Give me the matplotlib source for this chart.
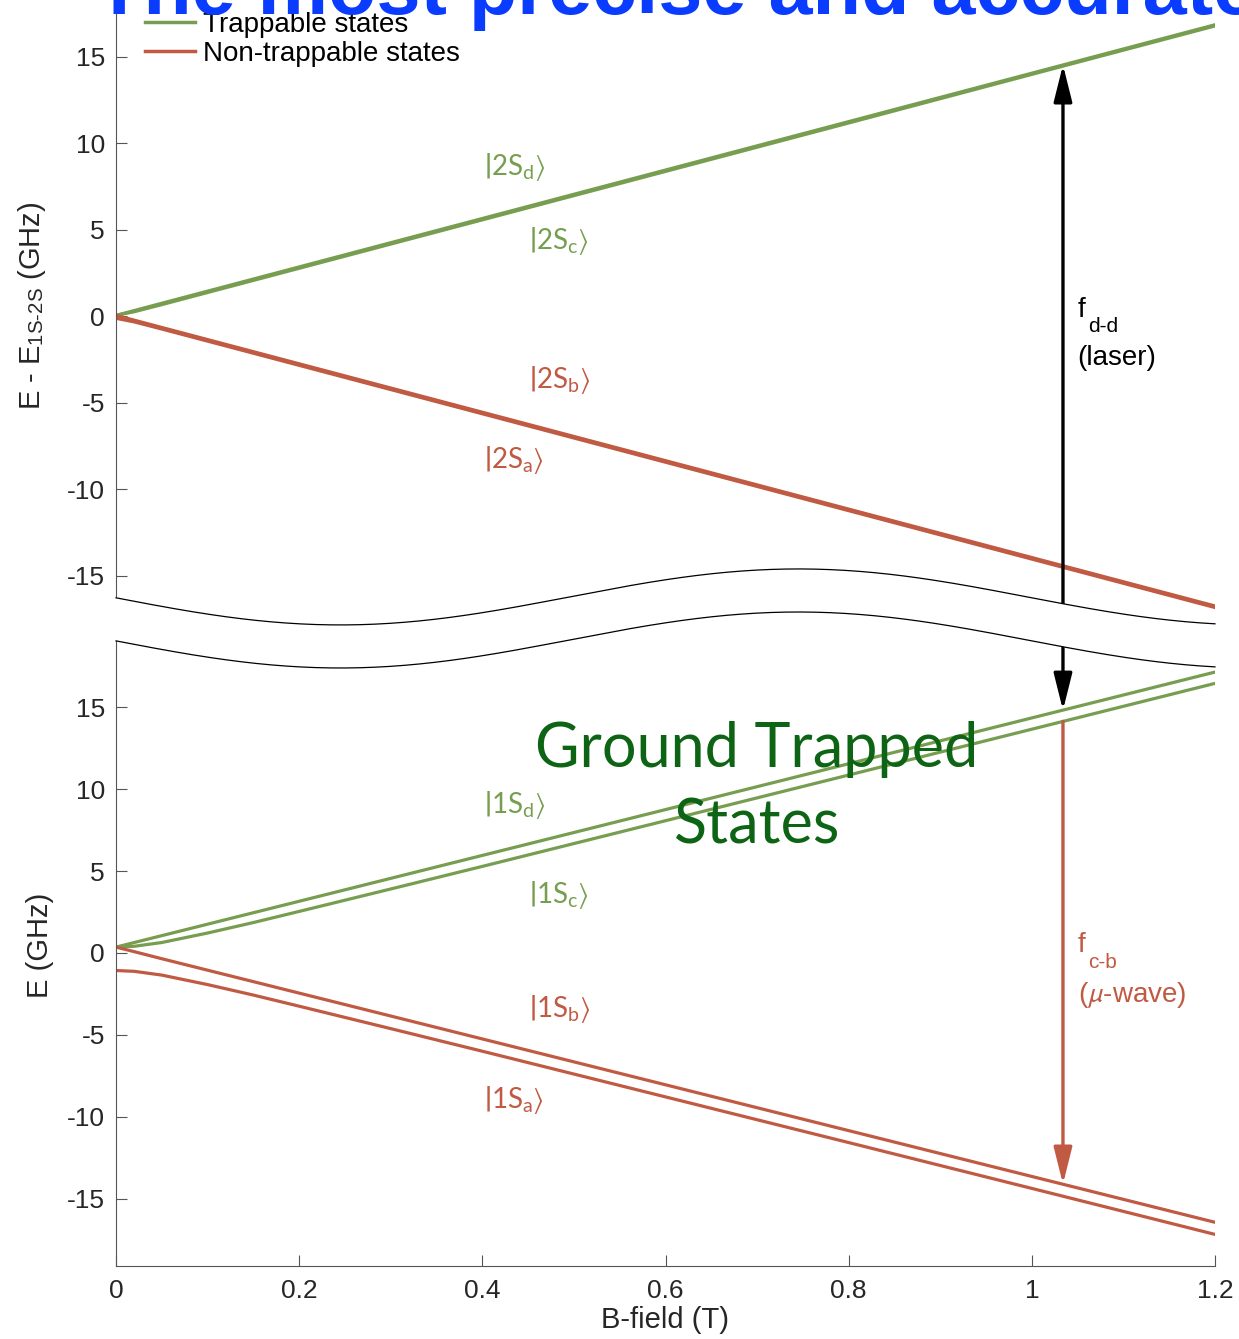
import numpy as np
import matplotlib
matplotlib.use('Agg')
import matplotlib.pyplot as plt
from matplotlib.patches import Polygon
from matplotlib.lines import Line2D

plt.rcParams['font.family'] = ['Liberation Sans', 'DejaVu Sans']
plt.rcParams['mathtext.fontset'] = 'stixsans'
plt.rcParams['axes.unicode_minus'] = False

GREEN = '#779E50'
RED = '#C05A42'
AXC = '#555555'
TXT = '#262626'

# 2S hyperfine levels vs field (GHz, relative to 1S-2S)
B_2s = [0, 0.02, 0.05, 0.1, 0.2, 0.4, 0.6, 0.8, 1.0, 1.2]
E_2s_d = [0.04, 0.32, 0.74, 1.44, 2.84, 5.64, 8.44, 11.24, 14.04, 16.84]
E_2s_c = [0.04, 0.25, 0.66, 1.36, 2.76, 5.56, 8.36, 11.16, 13.97, 16.77]
E_2s_b = [0.04, -0.24, -0.66, -1.36, -2.76, -5.56, -8.36, -11.16, -13.96, -16.76]
E_2s_a = [-0.13, -0.34, -0.75, -1.45, -2.85, -5.65, -8.45, -11.25, -14.05, -16.85]

# 1S hyperfine levels vs field (GHz)
B_1s = [0, 0.02, 0.05, 0.1, 0.15, 0.2, 0.3, 0.4, 0.6, 0.8, 1.0, 1.2]
E_1s_d = [0.36, 0.64, 1.06, 1.76, 2.46, 3.16, 4.56, 5.96, 8.76, 11.56, 14.36, 17.16]
E_1s_c = [0.36, 0.41, 0.64, 1.22, 1.86, 2.54, 3.91, 5.29, 8.08, 10.87, 13.67, 16.47]
E_1s_b = [0.36, 0.08, -0.35, -1.05, -1.75, -2.45, -3.85, -5.25, -8.05, -10.85, -13.65, -16.45]
E_1s_a = [-1.07, -1.12, -1.35, -1.93, -2.57, -3.25, -4.62, -6.00, -8.79, -11.58, -14.38, -17.19]

# transitions
B_arrow = 1.034
E_laser_top = 14.52   # 2S_d
E_laser_bot = 14.83   # 1S_d
E_mw_top = 14.15      # 1S_c
E_mw_bot = -14.12     # 1S_b

W, H = 1239, 1339
fig = plt.figure(figsize=(W / 100, H / 100), dpi=100)


def box(left, top, right, bottom):
    return [left / W, 1 - bottom / H, (right - left) / W, (bottom - top) / H]


ax1 = fig.add_axes(box(116, 0, 1215, 625))
ax2 = fig.add_axes(box(116, 612, 1215, 1266))
ax2.set_facecolor('none')

ax1.set_ylim(-17.86, 18.27)
ax2.set_ylim(-19.12, 20.83)
for ax in (ax1, ax2):
    ax.set_xlim(0, 1.2)
    ax.set_yticks([-15, -10, -5, 0, 5, 10, 15])
    ax.spines['right'].set_visible(False)
    ax.spines['top'].set_visible(False)
    ax.spines['left'].set_color(AXC)
    ax.spines['bottom'].set_color(AXC)
    ax.tick_params(direction='in', length=8, width=0.8, color=AXC,
                   labelsize=19, labelcolor=TXT, pad=8)
ax1.spines['bottom'].set_visible(False)
ax1.tick_params(axis='x', bottom=False, labelbottom=False)
ax2.set_xticks([0, 0.2, 0.4, 0.6, 0.8, 1.0, 1.2])
ax2.set_xticklabels(['0', '0.2', '0.4', '0.6', '0.8', '1', '1.2'])
ax2.tick_params(axis='x', pad=9)

lw = 2.3
ax1.plot(B_2s, E_2s_d, color=GREEN, lw=lw)
ax1.plot(B_2s, E_2s_c, color=GREEN, lw=lw)
ax1.plot(B_2s, E_2s_b, color=RED, lw=lw)
ax1.plot(B_2s, E_2s_a, color=RED, lw=lw)
ax2.plot(B_1s, E_1s_d, color=GREEN, lw=lw)
ax2.plot(B_1s, E_1s_c, color=GREEN, lw=lw)
ax2.plot(B_1s, E_1s_b, color=RED, lw=lw)
ax2.plot(B_1s, E_1s_a, color=RED, lw=lw)

handles = [Line2D([], [], color=GREEN, lw=2.5), Line2D([], [], color=RED, lw=2.5)]
ax1.legend(handles, ['Trappable states', 'Non-trappable states'],
           loc='upper left', bbox_to_anchor=(0.026, 0.981), frameon=False,
           fontsize=20, handlelength=1.8, handletextpad=0.3,
           labelspacing=0.12, borderpad=0, borderaxespad=0)

# state labels
kets = [
    (ax1, 0.402, 8.55, '2S', 'd', GREEN),
    (ax1, 0.451, 4.28, '2S', 'c', GREEN),
    (ax1, 0.451, -3.76, '2S', 'b', RED),
    (ax1, 0.402, -8.38, '2S', 'a', RED),
    (ax2, 0.402, 8.98, '1S', 'd', GREEN),
    (ax2, 0.451, 3.48, '1S', 'c', GREEN),
    (ax2, 0.451, -3.48, '1S', 'b', RED),
    (ax2, 0.402, -9.04, '1S', 'a', RED),
]
for ax, x, y, lev, sub, col in kets:
    ax.text(x, y, r'$\left|\mathregular{%s}_\mathregular{%s}\right\rangle$' % (lev, sub),
            color=col, fontsize=20, family='Lato', ha='left', va='center',
            zorder=6)

# transition arrows
head = '-|>,head_length=1.4,head_width=0.35'
ax1.annotate('', xy=(B_arrow, E_laser_top), xytext=(B_arrow, -17.86),
             arrowprops=dict(arrowstyle=head, mutation_scale=16, lw=2.4,
                             color='black', shrinkA=0, shrinkB=0), zorder=3)
ax2.annotate('', xy=(B_arrow, E_laser_bot), xytext=(B_arrow, 20.83),
             arrowprops=dict(arrowstyle=head, mutation_scale=16, lw=2.4,
                             color='black', shrinkA=0, shrinkB=0), zorder=3)
ax2.annotate('', xy=(B_arrow, E_mw_bot), xytext=(B_arrow, E_mw_top),
             arrowprops=dict(arrowstyle=head, mutation_scale=16, lw=2.4,
                             color=RED, shrinkA=0, shrinkB=0), zorder=3)

ax1.text(1.050, 0.35, 'f', fontsize=20, color='black', ha='left', va='center')
ax1.text(1.061, -0.58, 'd-d', fontsize=15, color='black', ha='left', va='center')
ax1.text(1.050, -2.43, '(laser)', fontsize=20, color='black', ha='left', va='center')
ax2.text(1.050, 0.49, 'f', fontsize=20, color=RED, ha='left', va='center')
ax2.text(1.061, -0.55, 'c-b', fontsize=15, color=RED, ha='left', va='center')
ax2.text(1.050, -2.57, r'($\mu$-wave)', fontsize=20, color=RED, ha='left', va='center')

ax2.text(0.70, 10.1, 'Ground Trapped\nStates', fontsize=44, family='Lato',
         color='#0D6414', ha='center', va='center', linespacing=1.42, zorder=6)

# axis break: two wavy lines with white between them (in ax2 data units)
Bw = np.linspace(-0.004, 1.204, 300)
phase = np.cos(2 * np.pi * (Bw - 0.245))
upper = 21.75 - 1.71 * phase
lower = 19.12 - 1.71 * phase
poly = np.vstack([np.column_stack([Bw, upper]), np.column_stack([Bw[::-1], lower[::-1]])])
fig.add_artist(Polygon(poly, closed=True, facecolor='white', edgecolor='none',
                       transform=ax2.transData, clip_on=False, zorder=5))
inside = (Bw >= 0) & (Bw <= 1.2)
for curve in (upper, lower):
    fig.add_artist(Line2D(Bw[inside], curve[inside], color='black', lw=0.9,
                          transform=ax2.transData, clip_on=False, zorder=6))

fig.text(32 / W, 1 - 306 / H, r'E - E$_{\mathregular{1S\text{-}2S}}$ (GHz)',
         rotation=90, ha='center', va='center', fontsize=21, color=TXT)
fig.text(40 / W, 1 - 945 / H, 'E (GHz)', rotation=90, ha='center',
         va='center', fontsize=21, color=TXT)
fig.text(665 / W, 1 - 1320 / H, 'B-field (T)', ha='center', va='center',
         fontsize=21, color=TXT)

fig.text(95 / W, 1 - 14 / H, 'The most precise and accurate', fontsize=57,
         weight='bold', color='#0A3CFF', ha='left', va='baseline', zorder=10)

fig.savefig('out.png', dpi=100)
